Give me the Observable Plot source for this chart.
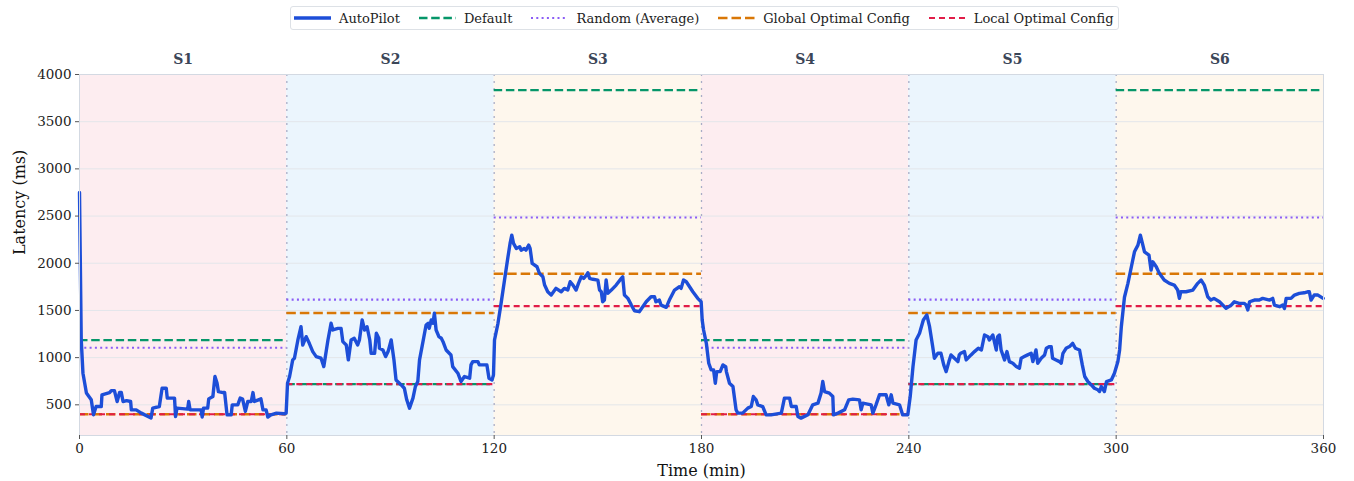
<!DOCTYPE html>
<html>
<head>
<meta charset="utf-8">
<script src="https://cdn.jsdelivr.net/npm/d3@7"></script>
<script src="https://cdn.jsdelivr.net/npm/@observablehq/plot@0.6"></script>
<style>
  html, body { margin: 0; padding: 0; background: #fff; }
  #wrap { position: relative; width: 1354px; height: 481px; font-family: "DejaVu Serif", serif; }
  #legend { position: absolute; left: 290px; top: 6px; height: 24px; box-sizing: border-box;
    border: 1px solid #dde1e6; border-radius: 3px; background: #fff; display: flex; align-items: center;
    padding: 0 5px 0 3px; font-size: 13px; color: #222; white-space: nowrap; z-index: 2; }
  .item { display: flex; align-items: center; margin-right: 19px; }
  .item:last-child { margin-right: 0; }
  .item svg { margin-right: 8px; }
</style>
</head>
<body>
<div id="wrap"><div id="legend"></div><div id="chart"></div></div>
<script>
// ---- Data ----
const segNames = ["S1", "S2", "S3", "S4", "S5", "S6"];
const segStart = [0, 60, 120, 180, 240, 300];
const segEnd = [60, 120, 180, 240, 300, 360];
const defaultLevel = [1185, 720, 3835, 1185, 720, 3835];
const randomLevel = [1105, 1615, 2485, 1105, 1615, 2485];
const globalLevel = [400, 1472, 1890, 400, 1472, 1890];
const localLevel = [400, 720, 1545, 400, 720, 1545];
const segFill = ["#fdedf0", "#ebf5fd", "#fef7ed", "#fdedf0", "#ebf5fd", "#fef7ed"];

const xTicks = [0, 60, 120, 180, 240, 300, 360];
const yTicks = [500, 1000, 1500, 2000, 2500, 3000, 3500, 4000];

const apTime = [
0,0.5,1.0,2.0,3.4,4.05,4.8,6.3,6.5,8.7,9.2,10.1,10.9,11.6,12.1,12.6,13.6,14.8,15.0,16.4,17.9,20.7,21.2,23.1,23.9,25.1,25.4,27.5,27.8,28.2,31.3,31.6,32.0,35.2,35.5,35.9,37.1,37.4,38.6,39.2,39.8,40.2,41.5,42.0,42.7,43.9,44.2,45.8,46.5,47.2,48.0,48.7,49.7,50.2,50.6,51.6,52.5,53.1,54.0,54.5,55.4,57.0,59.3,59.8,
60.2,60.8,61.7,62.2,63.2,64.1,64.6,65.6,66.5,67.5,68.5,69.9,70.7,71.9,72.8,73.3,74.8,75.7,76.2,77.2,77.8,78.6,79.5,80.5,81.0,81.8,82.5,83.2,84.0,84.4,85.4,85.9,86.6,86.8,87.8,88.6,89.3,90.2,91.0,91.6,93.1,94.0,94.7,95.5,96.5,97.2,97.9,98.4,99.4,100.3,100.9,101.2,101.8,102.3,102.7,103.2,104.0,104.7,105.2,106.1,107.5,108.0,109.5,110.4,111.4,112.9,113.3,113.8,115.3,115.7,117.9,118.5,119.4,119.8,
120.1,121.1,122.0,123.0,124.0,124.6,125.1,125.6,126.4,127.4,127.8,128.7,129.2,130.0,130.4,131.0,132.4,133.1,134.1,134.6,135.5,136.5,137.9,139.4,140.3,141.3,142.0,142.8,143.7,144.4,145.2,145.9,146.7,147.1,147.6,148.6,150.0,150.5,151.0,151.4,151.9,152.4,152.9,153.9,155.3,156.8,157.2,157.7,158.7,159.7,160.6,162.0,163.0,164.0,165.4,166.4,166.8,167.8,168.3,169.8,170.7,172.2,173.6,174.1,174.8,175.6,177.5,178.9,179.9,
180.2,180.6,181.4,182.1,182.8,183.5,184.0,184.4,185.4,186.2,187.0,187.2,188.1,189.1,190.0,190.5,191.9,193.4,194.4,195.0,195.8,196.3,197.7,198.7,200.1,203.1,204.0,205.5,206.0,207.4,207.9,208.8,210.8,212.2,213.7,214.6,215.1,215.6,217.0,218.0,218.2,219.5,221.4,222.6,223.8,225.7,226.2,226.7,229.1,229.6,230.5,231.5,233.4,234.2,234.9,235.4,237.3,238.2,239.7,
240.4,241.2,242.1,243.1,244.2,245.2,246.0,246.9,247.4,248.4,249.3,250.1,250.8,251.6,252.2,253.2,254.2,254.6,255.0,256.1,256.6,258.0,259.0,260.1,261.0,261.9,262.9,263.3,264.3,265.3,265.7,266.2,266.7,267.7,268.4,269.1,270.1,271.1,272.0,272.5,273.4,274.4,275.4,275.9,276.8,277.3,278.3,279.3,279.8,280.7,281.2,281.6,282.6,283.6,284.1,284.6,285.5,286.5,287.4,288.2,289.4,290.2,290.9,291.8,292.8,293.7,294.7,295.2,295.7,296.6,297.2,298.6,299.5,300.5,301.0,301.5,
302.4,303.4,304.4,305.3,306.3,307.0,307.6,308.2,309.5,310.1,310.6,311.6,312.5,313.9,315.4,316.8,317.8,318.3,318.7,320.2,322.2,323.6,324.6,325.5,326.5,327.4,328.3,329.9,331.8,333.3,334.2,335.6,337.1,337.6,338.1,338.6,340.0,341.4,342.4,344.4,345.3,345.8,347.3,348.2,348.7,349.2,350.6,351.6,353.0,354.4,355.4,355.9,356.4,357.3,358.4,359.9
];
const apLatency = [
2750,1190,835,625,553,395,482,482,606,630,651,651,535,630,630,535,545,535,447,447,412,360,465,482,676,676,571,571,376,465,455,535,447,447,371,465,465,563,588,800,730,640,630,630,394,394,500,500,571,560,430,535,535,630,535,550,563,447,447,371,394,412,405,412,
729,800,976,994,1187,1328,1134,1222,1152,1064,1011,994,905,1187,1364,1293,1310,1310,1170,1134,976,1187,1205,1134,1187,1399,1293,1328,1187,1046,1046,1258,1205,1099,1081,1011,1064,1187,976,764,711,676,553,465,571,694,747,976,1169,1346,1364,1310,1399,1364,1470,1293,1222,1205,1169,1081,1028,905,835,747,800,782,923,958,958,923,923,782,764,817,
1187,1364,1575,1822,2068,2210,2298,2210,2157,2175,2139,2157,2139,2192,2157,1998,1963,1893,1857,1769,1698,1663,1734,1698,1734,1716,1804,1769,1716,1787,1857,1840,1875,1899,1840,1830,1822,1716,1698,1592,1610,1822,1681,1716,1769,1840,1857,1663,1628,1557,1497,1487,1540,1592,1645,1645,1592,1610,1557,1533,1610,1716,1751,1734,1822,1804,1698,1628,1592,
1399,1293,1152,941,870,870,729,852,852,923,905,852,729,694,447,412,412,465,482,588,553,500,482,394,394,412,571,571,482,482,376,359,394,500,518,624,747,641,624,588,394,412,447,553,560,553,447,518,500,412,500,606,606,500,606,518,500,394,394,
588,905,1187,1258,1399,1452,1328,1117,994,1046,1046,923,852,958,1029,994,958,1029,1046,1064,976,1029,1064,1099,1081,1240,1222,1187,1240,1081,1222,1240,1081,976,1064,958,941,905,888,994,1011,1029,1046,958,1081,941,994,1029,1099,1117,1117,994,976,958,941,1046,1099,1117,1152,1099,1081,923,800,747,711,676,660,641,694,641,747,764,835,958,1081,1330,
1640,1787,1963,2121,2192,2298,2210,2121,2086,1927,2015,1963,1893,1822,1787,1769,1716,1628,1698,1698,1716,1787,1822,1769,1645,1610,1628,1592,1522,1557,1592,1575,1575,1557,1505,1592,1610,1610,1628,1610,1628,1557,1540,1557,1522,1628,1628,1663,1681,1687,1698,1698,1610,1663,1663,1628
];

// ---- Styles ----
const C = {
  auto: "#1d4ed8", def: "#059669", rnd: "#8b5cf6", glob: "#d97706", loc: "#e11d48"
};
const series = [
  {name: "AutoPilot", color: C.auto, width: 3.6, dash: null},
  {name: "Default", color: C.def, width: 2.3, dash: "8.5,3.7"},
  {name: "Random (Average)", color: C.rnd, width: 2.1, dash: "2,3.3"},
  {name: "Global Optimal Config", color: C.glob, width: 2.5, dash: "9.5,4"},
  {name: "Local Optimal Config", color: C.loc, width: 2.2, dash: "6,4"}
];

const segs = segNames.map((n, i) => ({
  name: n, start: segStart[i], end: segEnd[i], mid: (segStart[i] + segEnd[i]) / 2,
  def: defaultLevel[i], rnd: randomLevel[i], glob: globalLevel[i], loc: localLevel[i], fill: segFill[i]
}));
const ap = apTime.map((t, i) => ({t, v: apLatency[i]}));
const Y0 = 175, Y1 = 4000;

// legend
const lg = document.getElementById("legend");
for (const s of series) {
  const it = document.createElement("div");
  it.className = "item";
  it.innerHTML = `<svg width="37" height="10"><line x1="0" x2="37" y1="5" y2="5" stroke="${s.color}" stroke-width="${s.width}" ${s.dash ? `stroke-dasharray="${s.dash}"` : ""}/></svg><span>${s.name}</span>`;
  lg.appendChild(it);
}

const hline = (key, s) => Plot.ruleY(segs, {y: key, x1: "start", x2: "end", stroke: s.color, strokeWidth: s.width, strokeDasharray: s.dash});

const chart = Plot.plot({
  width: 1354, height: 481,
  marginLeft: 79, marginRight: 31, marginTop: 74, marginBottom: 46,
  x: {domain: [0, 360]},
  y: {domain: [Y0, Y1]},
  style: {fontFamily: "DejaVu Serif", fontSize: "13.5px", background: "white", color: "#222", overflow: "visible"},
  marks: [
    Plot.rect(segs, {x1: "start", x2: "end", y1: Y0, y2: Y1, fill: "fill"}),
    Plot.ruleY(yTicks, {stroke: "#e3e6ea", strokeWidth: 1}),
    Plot.ruleX(segStart.slice(1), {stroke: "#a9adc6", strokeWidth: 1.3, strokeDasharray: "2,5"}),
    hline("def", series[1]),
    hline("rnd", series[2]),
    hline("glob", series[3]),
    hline("loc", series[4]),
    Plot.line(ap, {x: "t", y: "v", stroke: C.auto, strokeWidth: 3.4, strokeLinejoin: "round", strokeLinecap: "round"}),
    Plot.frame({stroke: "#d3d9e2", strokeWidth: 1}),
    Plot.axisX({ticks: xTicks, tickSize: 4, tickPadding: 4, label: null, stroke: "#555", fontSize: 13.5, tickFormat: d => String(d)}),
    Plot.axisY({ticks: yTicks, tickSize: 4, tickPadding: 4, label: null, stroke: "#555", fontSize: 13.5, tickFormat: d => String(d)}),
    Plot.text(segs, {x: "mid", y: Y1, dy: -15, text: "name", fontWeight: "bold", fill: "#3b4658", fontSize: 14}),
    Plot.text(["Time (min)"], {frameAnchor: "bottom", dy: 40, fontSize: 16, fill: "#111"}),
    Plot.text(["Latency (ms)"], {frameAnchor: "left", dx: -60, rotate: -90, fontSize: 16, fill: "#111"})
  ]
});
document.getElementById("chart").appendChild(chart);
</script>
</body>
</html>
